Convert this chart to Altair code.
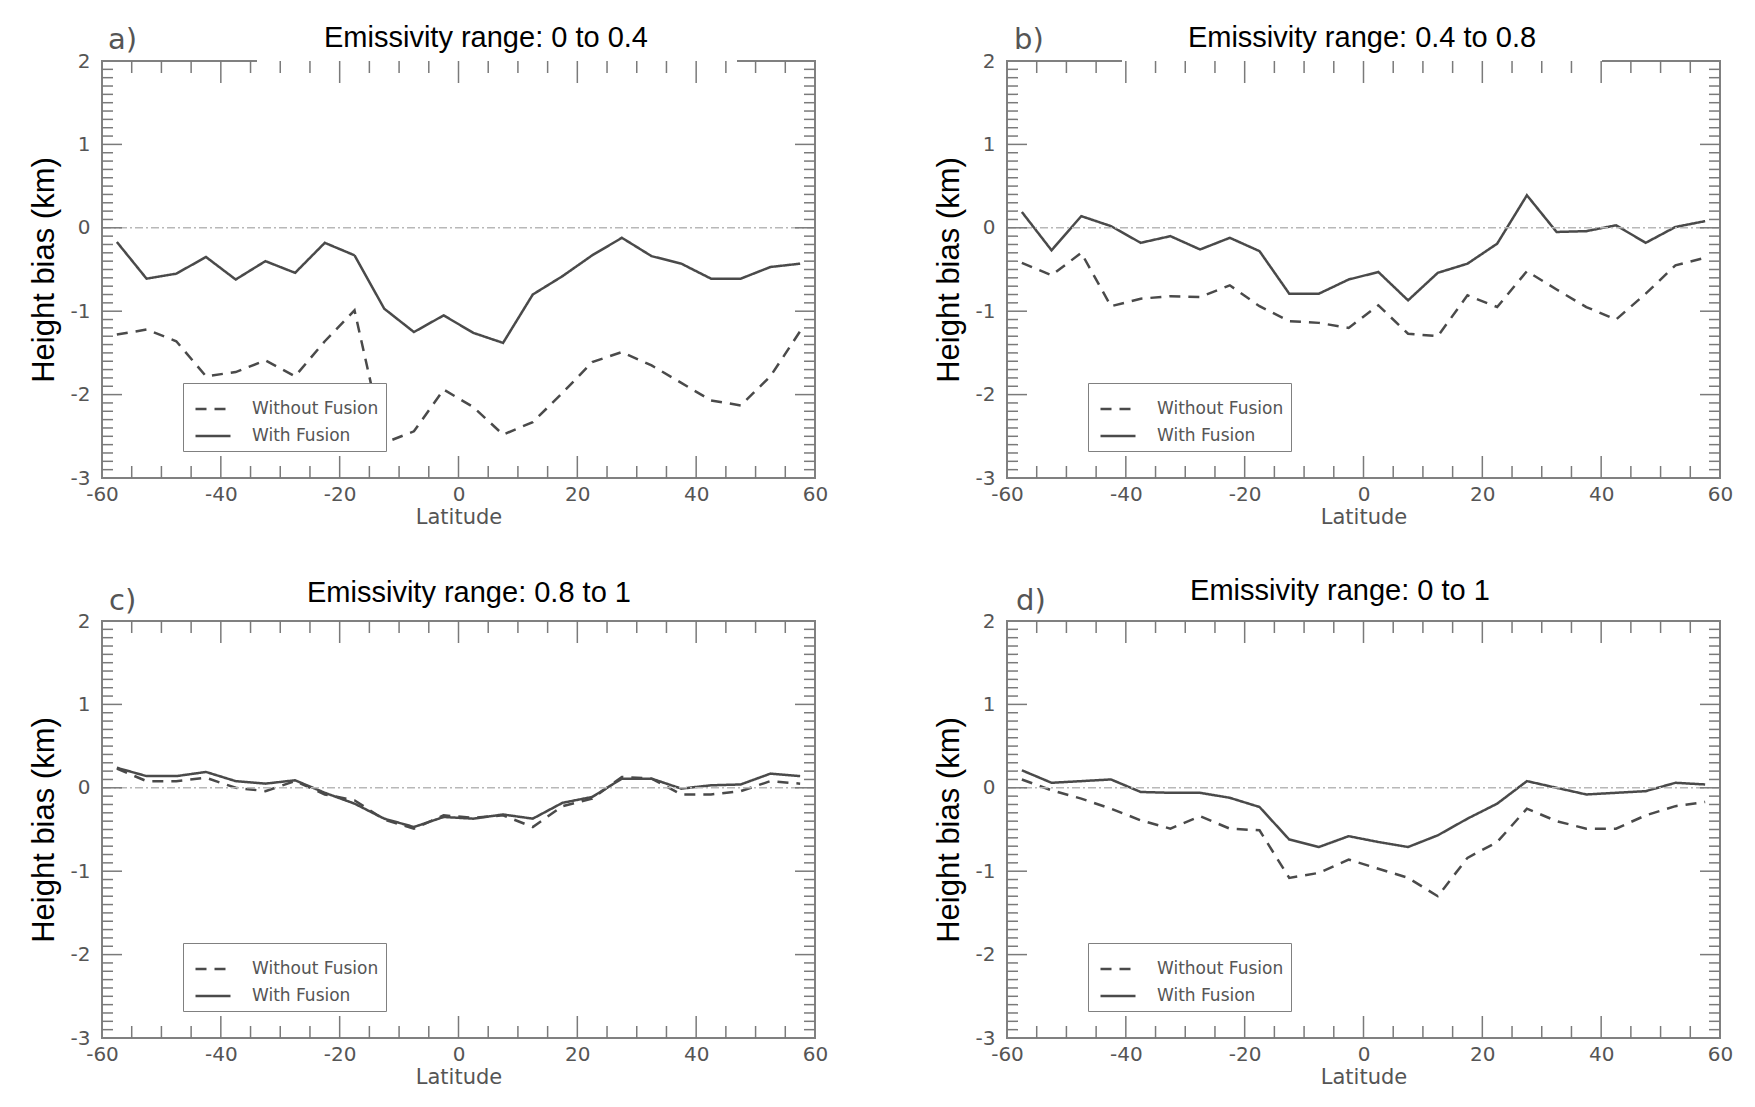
import altair as alt
import pandas as pd

# ---------------- data ----------------
LAT = [-57.5, -52.5, -47.5, -42.5, -37.5, -32.5, -27.5, -22.5, -17.5, -12.5, -7.5, -2.5,
       2.5, 7.5, 12.5, 17.5, 22.5, 27.5, 32.5, 37.5, 42.5, 47.5, 52.5, 57.5]
SERIES = ["Without Fusion", "With Fusion"]

A_WITHOUT = [-1.28, -1.22, -1.36, -1.78, -1.73, -1.59, -1.78, -1.36, -0.99, -2.58, -2.44, -1.94,
             -2.15, -2.48, -2.33, -1.98, -1.61, -1.49, -1.65, -1.86, -2.07, -2.13, -1.78, -1.24]
A_WITH = [-0.17, -0.61, -0.55, -0.35, -0.62, -0.40, -0.54, -0.18, -0.33, -0.97, -1.25, -1.05,
          -1.26, -1.38, -0.80, -0.58, -0.33, -0.12, -0.34, -0.43, -0.61, -0.61, -0.47, -0.43]

B_WITHOUT = [-0.42, -0.57, -0.30, -0.94, -0.85, -0.82, -0.83, -0.69, -0.94, -1.12, -1.14, -1.20,
             -0.93, -1.27, -1.30, -0.81, -0.95, -0.52, -0.74, -0.95, -1.10, -0.79, -0.45, -0.36]
B_WITH = [0.19, -0.27, 0.14, 0.02, -0.18, -0.10, -0.26, -0.12, -0.28, -0.79, -0.79, -0.62,
          -0.53, -0.87, -0.54, -0.43, -0.19, 0.39, -0.05, -0.04, 0.03, -0.18, 0.01, 0.08]

C_WITHOUT = [0.23, 0.08, 0.08, 0.12, 0.00, -0.04, 0.08, -0.08, -0.15, -0.38, -0.49, -0.33,
             -0.36, -0.33, -0.47, -0.22, -0.13, 0.13, 0.11, -0.08, -0.08, -0.04, 0.08, 0.05]
C_WITH = [0.24, 0.14, 0.14, 0.19, 0.08, 0.05, 0.09, -0.06, -0.19, -0.37, -0.47, -0.35,
          -0.37, -0.32, -0.37, -0.18, -0.11, 0.11, 0.11, -0.01, 0.03, 0.04, 0.17, 0.14]

D_WITHOUT = [0.10, -0.03, -0.13, -0.25, -0.39, -0.49, -0.34, -0.49, -0.51, -1.08, -1.02, -0.86,
             -0.97, -1.08, -1.30, -0.84, -0.65, -0.25, -0.40, -0.49, -0.49, -0.33, -0.22, -0.17]
D_WITH = [0.21, 0.06, 0.08, 0.10, -0.05, -0.06, -0.06, -0.12, -0.23, -0.62, -0.71, -0.58,
          -0.65, -0.71, -0.57, -0.37, -0.19, 0.08, 0.00, -0.08, -0.06, -0.04, 0.06, 0.04]

TITLES = ["Emissivity range: 0 to 0.4", "Emissivity range: 0.4 to 0.8",
          "Emissivity range: 0.8 to 1", "Emissivity range: 0 to 1"]
PANEL_LABELS = ["a)", "b)", "c)", "d)"]
X_LABELS = [-60, -40, -20, 0, 20, 40, 60]
Y_LABELS = [-3, -2, -1, 0, 1, 2]
X_MAJOR = [-40, -20, 0, 20, 40]
X_MINOR = [-55, -50, -45, -35, -30, -25, -15, -10, -5, 5, 10, 15, 25, 30, 35, 45, 50, 55]
Y_MAJOR = [-2, -1, 0, 1]
Y_MINOR = [round(-3 + 0.1 * k, 1) for k in range(1, 50) if k % 10 != 0]

WITHOUT = [A_WITHOUT, B_WITHOUT, C_WITHOUT, D_WITHOUT]
WITH = [A_WITH, B_WITH, C_WITH, D_WITH]

# ---------------- style ----------------
W, H = 713, 417
LINE = "#4a4a4a"
TICK = "#7a7a7a"
GREY_TXT = "#555555"
TITLE_X = [384, 355, 367, 333]
TITLE_Y = [-14, -14, -19, -21]
LABEL_X = [6, 7, 7, 9]
LABEL_Y = [-12, -12, -11, -11]
GAPS = [(155, 635), (115, 595), None, None]


def panel(i):
    df = pd.DataFrame({
        "lat": LAT * 2,
        "bias": WITHOUT[i] + WITH[i],
        "series": [SERIES[0]] * len(LAT) + [SERIES[1]] * len(LAT),
    })
    xs = alt.Scale(domain=[-60, 60], nice=False, zero=False)
    ys = alt.Scale(domain=[-3, 2], nice=False, zero=False)

    xaxis = alt.Axis(values=X_LABELS, ticks=False, domain=False, grid=False,
                     labelFlush=False, labelOverlap=False,
                     labelExpr="'' + datum.value",
                     labelFont="DejaVu Sans", labelFontSize=20, labelColor=GREY_TXT,
                     labelPadding=6, title="Latitude", titleFont="DejaVu Sans",
                     titleFontSize=21, titleFontWeight="normal", titleColor=GREY_TXT,
                     titlePadding=2)
    yaxis = alt.Axis(values=Y_LABELS, ticks=False, domain=False, grid=False,
                     labelFlush=False, labelOverlap=False,
                     labelExpr="'' + datum.value",
                     labelFont="DejaVu Sans", labelFontSize=20, labelColor=GREY_TXT,
                     labelPadding=12, title="Height bias (km)", titleFont="Liberation Sans",
                     titleFontSize=31, titleFontWeight="normal", titleColor="black",
                     titleX=-58, titleY=H / 2, titleBaseline="middle")

    legend = alt.Legend(orient="none", legendX=81, legendY=322, title=None,
                        fillColor="white", strokeColor="#808080", padding=7,
                        symbolType="stroke", symbolSize=1225, symbolStrokeWidth=2.5,
                        symbolStrokeColor=LINE, symbolOffset=4,
                        labelFont="DejaVu Sans", labelFontSize=17,
                        labelColor=GREY_TXT, labelOffset=20, rowPadding=-10,
                        labelExpr="datum.label + '  '")

    lines = alt.Chart(df).mark_line(color=LINE, strokeWidth=2.5).encode(
        x=alt.X("lat:Q", scale=xs, axis=xaxis),
        y=alt.Y("bias:Q", scale=ys, axis=yaxis),
        strokeDash=alt.StrokeDash("series:N",
                                  scale=alt.Scale(domain=SERIES, range=[[11, 8], [1, 0]]),
                                  legend=legend),
    )

    zero = alt.Chart(alt.Data(values=[{"bias": 0}])).mark_rule(
        color="#b8b8b8", strokeWidth=1.5, strokeDash=[8, 3, 2, 3]
    ).encode(y=alt.Y("bias:Q", scale=ys))

    layers = [lines, zero]

    if GAPS[i] is not None:
        gap = alt.Chart(alt.Data(values=[{"g": 1}])).mark_rect(color="white").encode(
            x=alt.value(GAPS[i][0]), x2=alt.value(GAPS[i][1]),
            y=alt.value(-2), y2=alt.value(2))
        layers.append(gap)

    def xticks(vals, length):
        d = alt.Data(values=[{"lat": v} for v in vals])
        b = alt.Chart(d).mark_rule(color=TICK, strokeWidth=1.5).encode(
            x=alt.X("lat:Q", scale=xs), y=alt.value(H), y2=alt.value(H - length))
        t = alt.Chart(d).mark_rule(color=TICK, strokeWidth=1.5).encode(
            x=alt.X("lat:Q", scale=xs), y=alt.value(0), y2=alt.value(length))
        return [b, t]

    def yticks(vals, length):
        d = alt.Data(values=[{"bias": v} for v in vals])
        l = alt.Chart(d).mark_rule(color=TICK, strokeWidth=1.5).encode(
            y=alt.Y("bias:Q", scale=ys), x=alt.value(0), x2=alt.value(length))
        r = alt.Chart(d).mark_rule(color=TICK, strokeWidth=1.5).encode(
            y=alt.Y("bias:Q", scale=ys), x=alt.value(W), x2=alt.value(W - length))
        return [l, r]

    layers += xticks(X_MINOR, 12) + xticks(X_MAJOR, 22)
    layers += yticks(Y_MINOR, 11) + yticks(Y_MAJOR, 20)

    lab = alt.Chart(alt.Data(values=[{"t": PANEL_LABELS[i]}])).mark_text(
        align="left", baseline="alphabetic", font="DejaVu Sans", fontSize=29, color=GREY_TXT
    ).encode(x=alt.value(LABEL_X[i]), y=alt.value(LABEL_Y[i]), text="t:N")
    layers.append(lab)

    ttl = alt.Chart(alt.Data(values=[{"t": TITLES[i]}])).mark_text(
        align="center", baseline="alphabetic", font="Liberation Sans", fontSize=29,
        color="black"
    ).encode(x=alt.value(TITLE_X[i]), y=alt.value(TITLE_Y[i]), text="t:N")
    layers.append(ttl)

    return alt.layer(*layers).properties(width=W, height=H)


chart = alt.concat(panel(0), panel(1), panel(2), panel(3), columns=2,
                   spacing={"row": 143, "column": 192}, bounds="flush").resolve_scale(
    strokeDash="independent"
).properties(
    padding={"left": 27, "top": 23, "right": 5, "bottom": 5},
    background="white",
).configure_view(stroke="#808080", strokeWidth=2)

chart.save("out.html", embed_options={"renderer": "svg", "actions": False})
